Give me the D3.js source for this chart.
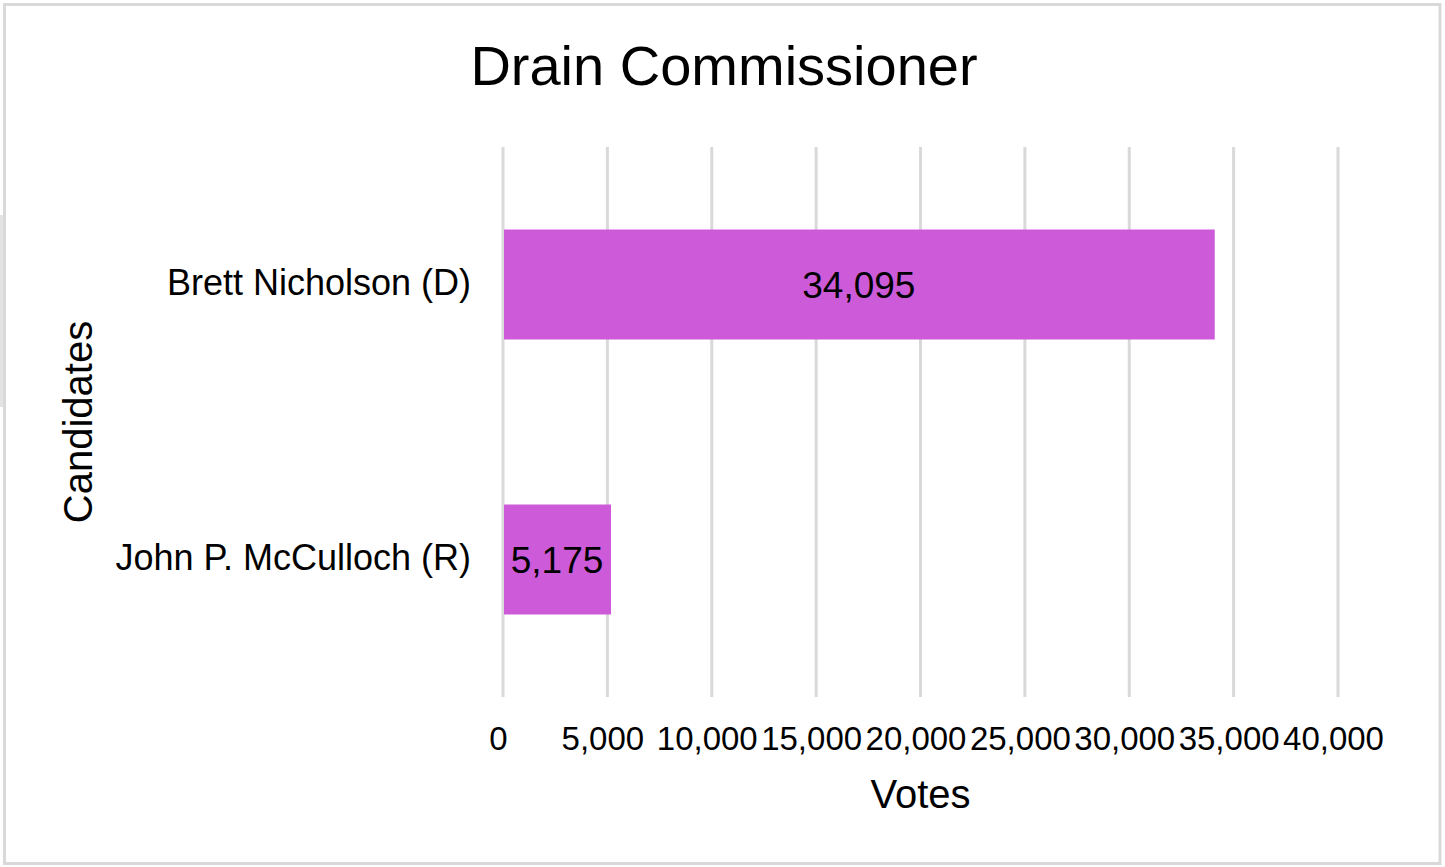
<!DOCTYPE html>
<html>
<head>
<meta charset="utf-8">
<script src="https://cdn.jsdelivr.net/npm/d3@7/dist/d3.min.js"></script>
<style>
  html, body { margin: 0; padding: 0; background: #fff; }
  svg { display: block; font-family: "Liberation Sans", Arial, sans-serif; }
</style>
</head>
<body>
<svg id="chart" width="1445" height="867"></svg>
<script>
const title = "Drain Commissioner";
const candidates = ["Brett Nicholson (D)", "John P. McCulloch (R)"];
const votes = [34095, 5175];
const tickValues = [0, 5000, 10000, 15000, 20000, 25000, 30000, 35000, 40000];
const xTitle = "Votes";
const yTitle = "Candidates";

const svg = d3.select("#chart");
const W = 1445, H = 867;
const plot = { left: 503, right: 1338, top: 147, bottom: 697 };

svg.append("rect").attr("x", 0).attr("y", 0).attr("width", W).attr("height", H).attr("fill", "#fff");
// small grey strip artifact on left edge
svg.append("rect").attr("x", 0).attr("y", 215).attr("width", 3).attr("height", 192).attr("fill", "#e3e3e3");
// frame
svg.append("rect").attr("x", 4.5).attr("y", 4.5).attr("width", 1435.5).attr("height", 859)
  .attr("fill", "none").attr("stroke", "#d9d9d9").attr("stroke-width", 3);

const x = d3.scaleLinear().domain([0, 40000]).range([plot.left, plot.right]);
const y = d3.scaleBand().domain(candidates).range([plot.top, plot.bottom]).paddingInner(0.6).paddingOuter(0.3);

// gridlines
svg.append("g").selectAll("line").data(tickValues).join("line")
  .attr("x1", d => x(d)).attr("x2", d => x(d))
  .attr("y1", plot.top).attr("y2", plot.bottom)
  .attr("stroke", "#d9d9d9").attr("stroke-width", 3);

// x axis labels via d3 axis
const fmt = d3.format(",");
const xAxis = d3.axisBottom(x).tickValues(tickValues).tickFormat(fmt).tickSize(0).tickPadding(0);
const gx = svg.append("g").attr("transform", `translate(-5, 750)`).call(xAxis);
gx.select(".domain").remove();
gx.selectAll("text").attr("y", 0).attr("dy", 0).attr("font-size", 33).attr("fill", "#000")
  .attr("font-family", "Liberation Sans, Arial, sans-serif");

// y axis labels
const yAxis = d3.axisLeft(y).tickSize(0).tickPadding(0);
const gy = svg.append("g").attr("transform", `translate(471, 0)`).call(yAxis);
gy.select(".domain").remove();
gy.selectAll("text").attr("dy", "0.3em").attr("font-size", 36).attr("fill", "#000")
  .attr("font-family", "Liberation Sans, Arial, sans-serif");

// bars
svg.append("g").selectAll("rect").data(candidates).join("rect")
  .attr("x", x(0) + 1)
  .attr("y", d => y(d))
  .attr("width", (d, i) => x(votes[i]) - x(0) - 1)
  .attr("height", y.bandwidth())
  .attr("fill", "#cd5bd9");

// value labels
svg.append("g").selectAll("text").data(candidates).join("text")
  .attr("x", (d, i) => (x(0) + x(votes[i])) / 2)
  .attr("y", d => y(d) + y.bandwidth() / 2)
  .attr("dy", "0.36em")
  .attr("text-anchor", "middle")
  .attr("font-size", 37)
  .attr("fill", "#000")
  .text((d, i) => fmt(votes[i]));

// title
svg.append("text").attr("x", 724).attr("y", 85).attr("text-anchor", "middle")
  .attr("font-size", 56).attr("fill", "#000").text(title);

// axis titles
svg.append("text").attr("x", (plot.left + plot.right) / 2).attr("y", 808).attr("text-anchor", "middle")
  .attr("font-size", 40).attr("fill", "#000").text(xTitle);
svg.append("text").attr("transform", `translate(92, ${(plot.top + plot.bottom) / 2}) rotate(-90)`)
  .attr("text-anchor", "middle").attr("font-size", 40).attr("fill", "#000").text(yTitle);
</script>
</body>
</html>
